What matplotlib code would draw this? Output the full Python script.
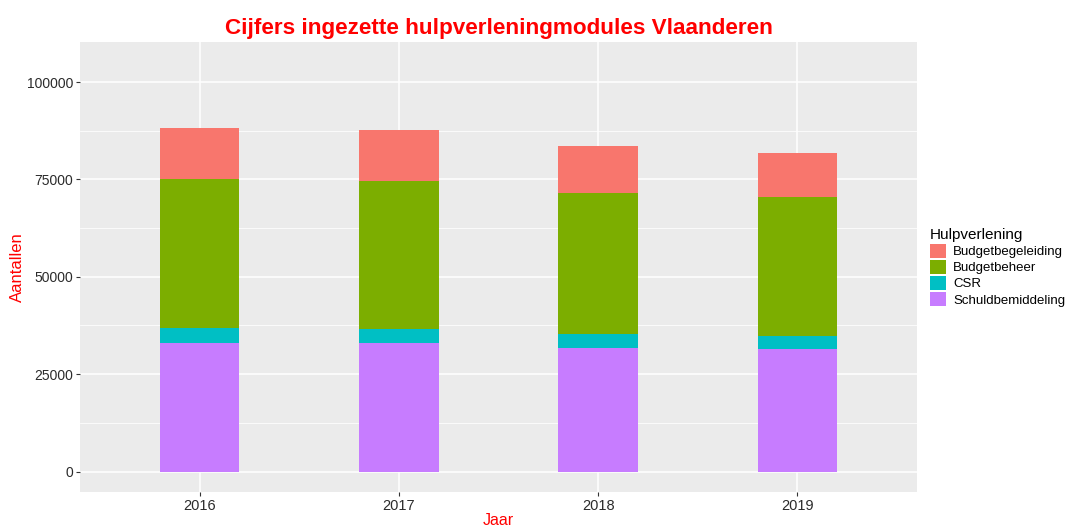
import matplotlib
matplotlib.use("Agg")
from matplotlib import pyplot as plt
from matplotlib.patches import Patch
import numpy as np

plt.rcParams['font.family'] = ['Liberation Sans', 'DejaVu Sans']

# data
jaren = ['2016', '2017', '2018', '2019']
schuldbemiddeling = [33000, 33000, 31800, 31450]
csr = [3800, 3600, 3600, 3350]
budgetbeheer = [38250, 38000, 36200, 35700]
budgetbegeleiding = [13250, 13200, 11850, 11150]

reeksen = ['Budgetbegeleiding', 'Budgetbeheer', 'CSR', 'Schuldbemiddeling']
kleuren = {'Budgetbegeleiding': '#F8766D', 'Budgetbeheer': '#7CAE00',
           'CSR': '#00BFC4', 'Schuldbemiddeling': '#C77CFF'}
waarden = {'Budgetbegeleiding': budgetbegeleiding, 'Budgetbeheer': budgetbeheer,
           'CSR': csr, 'Schuldbemiddeling': schuldbemiddeling}

fig = plt.figure(figsize=(10.68, 5.26), dpi=100)
ax = fig.add_axes([0.0749, 0.0646, 0.7837, 0.8554])
ax.set_facecolor('#EBEBEB')

x = np.arange(1, len(jaren) + 1)
bottom = np.zeros(len(jaren))
# stack from bottom up (ggplot order reversed)
for naam in reversed(reeksen):
    v = np.array(waarden[naam], dtype=float)
    ax.bar(x, v, width=0.4, bottom=bottom, color=kleuren[naam], zorder=3)
    bottom += v

ax.set_xlim(0.4, 4.6)
ax.set_ylim(-5250, 110250)
ax.set_yticks([0, 25000, 50000, 75000, 100000])
ax.set_yticks([12500, 37500, 62500, 87500], minor=True)
ax.set_xticks(x)
ax.set_xticklabels(jaren)
ax.grid(which='major', color='white', linewidth=1.1, zorder=0)
ax.grid(which='minor', axis='y', color='white', linewidth=0.55, zorder=0)
ax.set_axisbelow(True)
for s in ax.spines.values():
    s.set_visible(False)
ax.tick_params(which='major', length=3, color='#333333', labelcolor='#2B2B2B',
               labelsize=10, pad=2)
ax.tick_params(axis='x', labelsize=10.5)
ax.tick_params(which='minor', length=0)

ax.set_xlabel('Jaar', color='red', fontsize=11.5, labelpad=0)
ax.set_ylabel('Aantallen', color='red', fontsize=12, labelpad=1)
ax.set_title('Cijfers ingezette hulpverleningmodules Vlaanderen', color='red',
             fontsize=16.2, fontweight='bold', pad=6)

handles = [Patch(facecolor=kleuren[n], edgecolor='none') for n in reeksen]
leg = fig.legend(handles, reeksen, title='Hulpverlening', loc='upper left',
                 bbox_to_anchor=(0.866, 0.576), frameon=False, fontsize=9.5,
                 title_fontsize=11, handlelength=1.2, handleheight=1.2,
                 handletextpad=0.55, labelspacing=0.14, borderaxespad=0)
leg._legend_box.align = 'left'

fig.savefig('out.png', dpi=100)
